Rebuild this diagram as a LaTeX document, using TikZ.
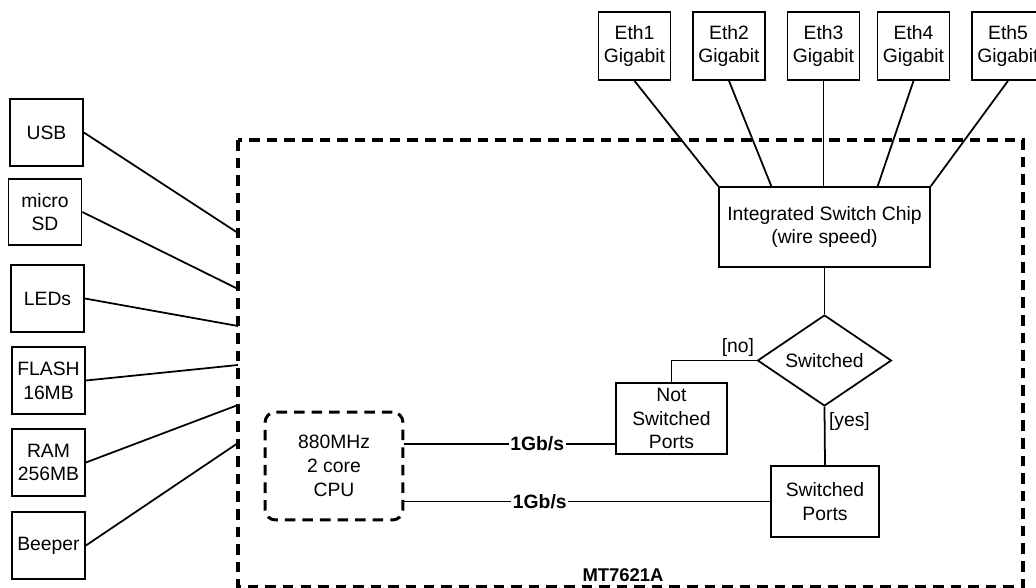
\documentclass[tikz,border=0pt]{standalone}
\usepackage{fontspec}
\setmainfont{Liberation Sans}
\usetikzlibrary{shapes.geometric,calc}

\begin{document}
\begin{tikzpicture}[x=0.02cm, y=-0.02cm, line width=1pt,
  box/.style={draw, align=center, inner sep=0pt, font=\fontsize{11}{13.5}\selectfont},
  port/.style={box, minimum width=1.44cm, minimum height=1.36cm},
  periph/.style={box, minimum width=1.46cm, minimum height=1.33cm},
  dashbox/.style={draw, line width=1.7pt, dash pattern=on 6pt off 4pt},
  speed/.style={fill=white, inner sep=1pt, font=\bfseries\fontsize{11}{13}\selectfont},
  guard/.style={inner sep=2pt, font=\fontsize{11}{13}\selectfont}]
  \useasboundingbox (0,0) rectangle (1036,588);
  \clip (0,0) rectangle (1036,588);

  % SoC outline
  \draw[dashbox, line width=2pt] (238,140) rectangle (1023,587);
  \node[font=\bfseries\fontsize{10.5}{12}\selectfont] (soc) at (623,575) {MT7621A};
  \coordinate (inUSB) at (238,233);
  \coordinate (inSD) at (238,289);
  \coordinate (inLED) at (238,326);
  \coordinate (inFlash) at (238,365);
  \coordinate (inRAM) at (238,405);
  \coordinate (inBeep) at (238,443);

  % peripherals
  \node[periph] (usb) at (46.5,132.5) {USB};
  \node[periph] (sd) at (45,212) {micro\\SD};
  \node[periph] (led) at (47.5,298.5) {LEDs};
  \node[periph] (flash) at (48.5,380.5) {FLASH\\16MB};
  \node[periph] (ram) at (48.5,462.5) {RAM\\256MB};
  \node[periph] (beep) at (48.5,545.5) {Beeper};

  \draw (usb.east) -- (inUSB);
  \draw (sd.east) -- (inSD);
  \draw (led.east) -- (inLED);
  \draw (flash.east) -- (inFlash);
  \draw (ram.east) -- (inRAM);
  \draw (beep.east) -- (inBeep);

  % ethernet ports
  \node[port] (eth1) at (634.5,46) {Eth1\\Gigabit};
  \node[port] (eth2) at (729,46) {Eth2\\Gigabit};
  \node[port] (eth3) at (823.5,46) {Eth3\\Gigabit};
  \node[port] (eth4) at (913.5,46) {Eth4\\Gigabit};
  \node[port] (eth5) at (1008,46) {Eth5\\Gigabit};

  \node[box, minimum width=4.22cm, minimum height=1.6cm] (chip) at (824.5,227)
    {Integrated Switch Chip\\(wire speed)};

  \draw (eth1.south) -- (chip.north west);
  \draw (eth2.south) -- ($(chip.north west)!0.25!(chip.north east)$);
  \draw (eth3.south) -- (eth3.south |- chip.north);
  \draw (eth4.south) -- ($(chip.north west)!0.75!(chip.north east)$);
  \draw (eth5.south) -- (chip.north east);

  % switching decision
  \node[box, diamond, aspect=1.5, minimum width=2.68cm, minimum height=1.82cm]
    (sw) at (824.5,360.5) {Switched};
  \node[box, minimum width=2.22cm, minimum height=1.42cm] (nsp) at (671.5,418.5)
    {Not\\Switched\\Ports};
  \node[box, minimum width=2.16cm, minimum height=1.42cm] (swp) at (825,501.5)
    {Switched\\Ports};

  \draw (chip.south) -- (sw.north);
  \draw (sw.west) -- node[guard, above, pos=0.22] {[no]} (sw.west -| nsp.north) -- (nsp.north);
  \draw (sw.south) -- node[guard, right, pos=0.25] {[yes]} (swp.north);

  % CPU
  \node[box, dashbox, rounded corners=6pt, minimum width=2.76cm, minimum height=2.16cm]
    (cpu) at (334,466) {880MHz\\2 core\\CPU};

  \coordinate (nspIn) at ([yshift=0.22cm]nsp.south west);
  \draw (nspIn -| cpu.east) -- node[speed, pos=0.63] {1Gb/s} (nspIn);
  \draw (swp.west -| cpu.east) -- node[speed, pos=0.37] {1Gb/s} (swp.west);
\end{tikzpicture}
\end{document}
